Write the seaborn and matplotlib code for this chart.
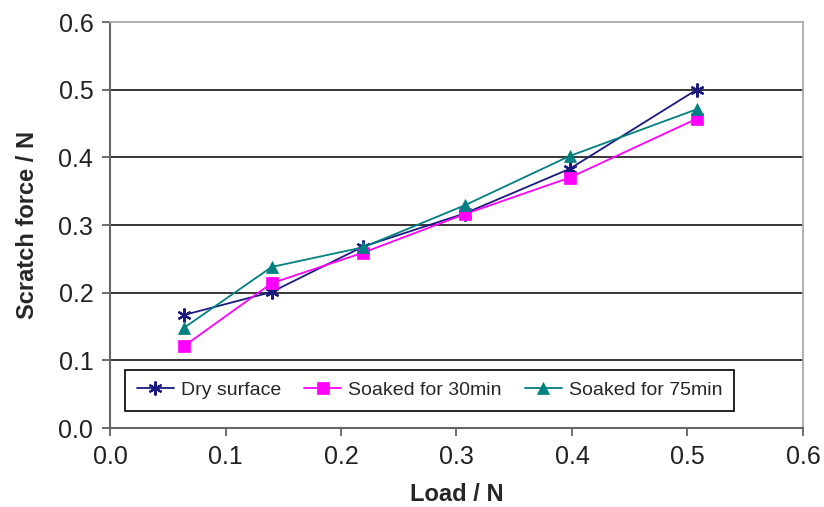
import matplotlib
matplotlib.use("Agg")
import matplotlib.pyplot as plt
import seaborn as sns
import pandas as pd

load = [0.064, 0.140, 0.219, 0.307, 0.398, 0.508]
dry = [0.167, 0.201, 0.268, 0.317, 0.383, 0.500]
soaked30 = [0.121, 0.214, 0.259, 0.316, 0.370, 0.457]
soaked75 = [0.148, 0.238, 0.267, 0.329, 0.402, 0.471]

series_names = ["Dry surface", "Soaked for 30min", "Soaked for 75min"]
series_vals = [dry, soaked30, soaked75]
colors = ["#1a1a80", "#ff00ff", "#008080"]
markers = [(6, 2, 0), "s", "^"]
msizes = [10, 8, 9]

sns.set_theme(style="white")
plt.rcParams["font.family"] = ["Liberation Sans", "DejaVu Sans"]

fig = plt.figure(figsize=(8.24, 5.07), dpi=100)
ax = fig.add_axes([0.1335, 0.1558, 0.8410, 0.8008])

for name, vals, c, m, ms in zip(series_names, series_vals, colors, markers, msizes):
    df = pd.DataFrame({"Load": load, "Force": vals})
    sns.lineplot(data=df, x="Load", y="Force", ax=ax, color=c, marker=m,
                 markersize=ms, markeredgecolor=c, markerfacecolor=c,
                 markeredgewidth=1.6 if m == (6, 2, 0) else 0.5,
                 linewidth=1.3, label=name, sort=False)

ax.set_xlim(0, 0.6)
ax.set_ylim(0, 0.6)
ax.set_xticks([0.0, 0.1, 0.2, 0.3, 0.4, 0.5, 0.6])
ax.set_yticks([0.0, 0.1, 0.2, 0.3, 0.4, 0.5, 0.6])
ax.set_xticklabels(["0.0", "0.1", "0.2", "0.3", "0.4", "0.5", "0.6"])
ax.set_yticklabels(["0.0", "0.1", "0.2", "0.3", "0.4", "0.5", "0.6"])
for yv in [0.1, 0.2, 0.3, 0.4, 0.5]:
    ax.axhline(yv, color="black", linewidth=1.1, zorder=0.5)

ax.tick_params(axis="both", which="both", direction="out", length=6, width=1.2,
               color="#555555", labelsize=18, labelcolor="#222222", pad=6,
               bottom=True, left=True)
for s in ["left", "bottom"]:
    ax.spines[s].set_color("#666666")
    ax.spines[s].set_linewidth(1.5)
for s in ["top", "right"]:
    ax.spines[s].set_color("#aaaaaa")
    ax.spines[s].set_linewidth(1.3)

ax.set_xlabel("Load / N", fontsize=17, fontweight="bold", labelpad=10)
ax.set_ylabel("Scratch force / N", fontsize=17, fontweight="bold", labelpad=14)

leg = ax.legend(loc="lower left", bbox_to_anchor=(0.022, 0.042), ncol=3,
                fontsize=14, frameon=True, fancybox=False, borderaxespad=0,
                handlelength=1.9, columnspacing=1.2, handletextpad=0.35,
                borderpad=0.6)
leg.get_frame().set_edgecolor("black")
leg.get_frame().set_linewidth(1.2)
leg.get_frame().set_alpha(1)

fig.savefig("out.png", dpi=100)
